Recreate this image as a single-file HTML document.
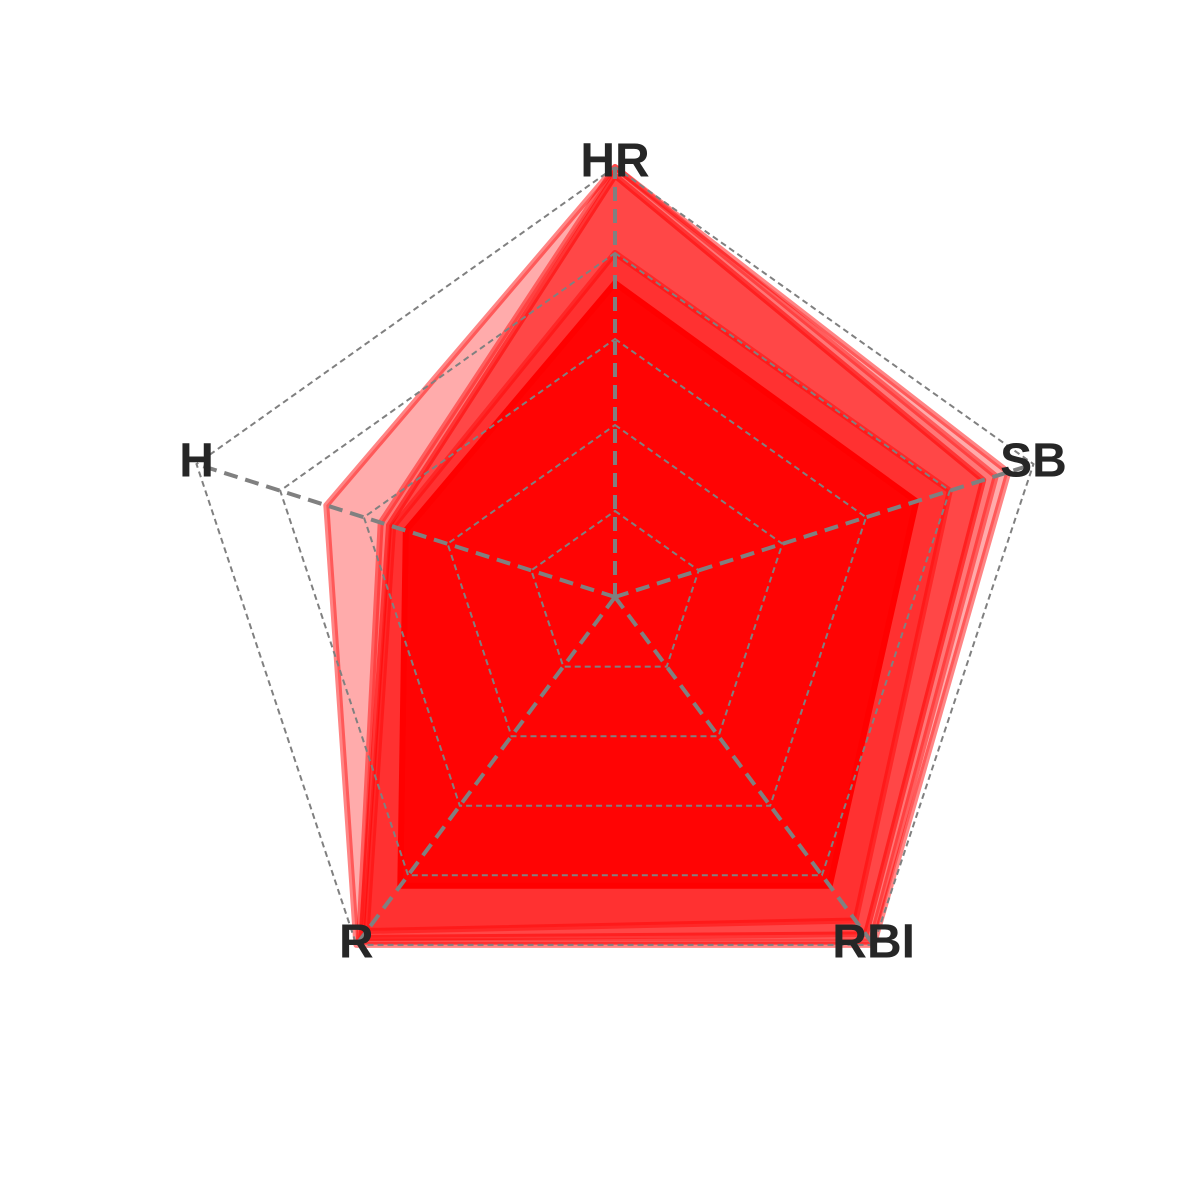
<!DOCTYPE html>
<html><head><meta charset="utf-8"><style>
html,body{margin:0;padding:0;background:#fff;}
svg{display:block;}
text{font-family:"Liberation Sans",Arial,sans-serif;font-weight:bold;font-size:48px;fill:#262626;}
</style></head><body>
<svg id="chart" width="1200" height="1200" viewBox="0 0 1200 1200" xmlns="http://www.w3.org/2000/svg">
<g id="series"></g>
<g id="grid"></g>
<g id="labels"></g>
</svg>
<script>
const categories = ["HR", "SB", "RBI", "R", "H"];
const gridLevels = [0.2, 0.4, 0.6, 0.8, 1.0];
const series1 = [1.00, 0.94, 1.00, 1.00, 0.69];
const series2 = [1.00, 0.91, 0.99, 0.99, 0.56];
const series3 = [0.98, 0.88, 0.97, 0.98, 0.54];
const series4 = [0.80, 0.80, 0.93, 0.96, 0.53];
const series5 = [0.73, 0.72, 0.83, 0.83, 0.50];
const allSeries = [series1, series2, series3, series4, series5];

const NS = "http://www.w3.org/2000/svg";
const cx = 615, cy = 597, rx = 440, ry = 430;
const opac = [0.33, 0.3, 0.4, 0.3, 0.9];
function angle(i){ return Math.PI/2 - i*2*Math.PI/categories.length; }
function px(i, v){ return cx + rx*v*Math.cos(angle(i)); }
function py(i, v){ return cy - ry*v*Math.sin(angle(i)); }
function pts(vals){ return vals.map((v,i)=>px(i,v).toFixed(1)+","+py(i,v).toFixed(1)).join(" "); }

const gS = document.getElementById("series");
allSeries.forEach((s, k) => {
  const p = document.createElementNS(NS, "polygon");
  p.setAttribute("points", pts(s));
  p.setAttribute("fill", "rgb(255,0,0)");
  p.setAttribute("fill-opacity", opac[k]);
  p.setAttribute("stroke", "rgb(255,0,0)");
  p.setAttribute("stroke-opacity", Math.min(1, opac[k]+0.15));
  p.setAttribute("stroke-width", "6");
  p.setAttribute("stroke-linejoin", "round");
  
  
  gS.appendChild(p);
});

const gG = document.getElementById("grid");
gridLevels.forEach(l => {
  const p = document.createElementNS(NS, "polygon");
  p.setAttribute("points", pts(categories.map(()=>l)));
  p.setAttribute("fill", "none");
  p.setAttribute("stroke", "#808080");
  p.setAttribute("stroke-width", "2");
  p.setAttribute("stroke-dasharray", "6 4");
  
  
  gG.appendChild(p);
});
categories.forEach((c, i) => {
  const ln = document.createElementNS(NS, "line");
  ln.setAttribute("x1", cx); ln.setAttribute("y1", cy);
  ln.setAttribute("x2", px(i,1)); ln.setAttribute("y2", py(i,1));
  ln.setAttribute("stroke", "#808080");
  ln.setAttribute("stroke-width", "4");
  ln.setAttribute("stroke-dasharray", "14 8");
  
  
  gG.appendChild(ln);
});

const gL = document.getElementById("labels");
categories.forEach((c, i) => {
  const t = document.createElementNS(NS, "text");
  t.setAttribute("x", px(i,1));
  t.setAttribute("y", py(i,1) - (i===0 ? 6 : 3));
  t.setAttribute("text-anchor", "middle");
  t.setAttribute("dominant-baseline", "central");
  t.textContent = c;
  
  
  gL.appendChild(t);
});
</script>
</body></html>
